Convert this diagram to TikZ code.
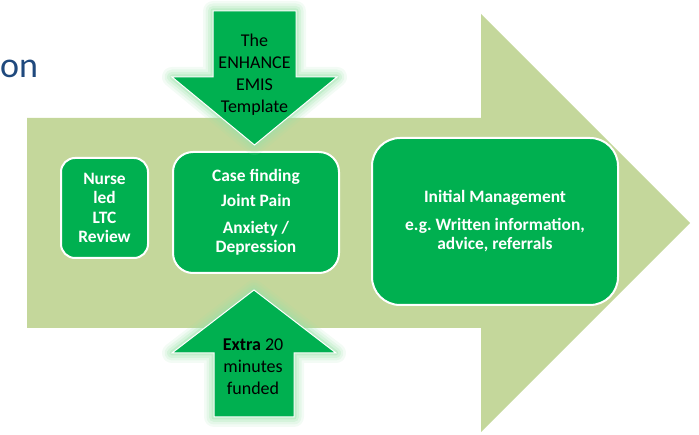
\documentclass[tikz,border=0pt]{standalone}
\usepackage{fontspec}
\setmainfont{Carlito}
\usetikzlibrary{positioning}
\definecolor{leaf}{HTML}{C4D79B}
\definecolor{boxgreen}{HTML}{00B050}
\definecolor{glowgreen}{HTML}{9BE2AA}
\definecolor{titleblue}{HTML}{1F497D}
\tikzset{
	greenbox/.style={draw=white, line width=2pt, fill=boxgreen, text=white, align=center, font=\bfseries\fontsize{17.4}{19.5}\selectfont, inner sep=0pt},
	arrowtext/.style={align=center, text=black, font=\fontsize{18}{22}\selectfont, inner sep=0pt},
	downshape/.style={insert path={(213,11) -- (296,11) -- (296,77) -- (337,77) -- (254.5,145) -- (172,77) -- (213,77) -- cycle}},
	upshape/.style={insert path={(254,290) -- (336,353) -- (294,353) -- (294,417) -- (214,417) -- (214,353) -- (172,353) -- cycle}}
}
\frenchspacing

\begin{document}
\begin{tikzpicture}[x=1pt, y=-1pt]
		\useasboundingbox (0,0) rectangle (699,435);
		% big background arrow
		\fill[leaf] (27,118) -- (481,118) -- (481,14) -- (690,223) -- (481,432) -- (481,328) -- (27,328) -- cycle;
		\node[anchor=base west, inner sep=0pt, text=titleblue, font=\fontsize{36}{40}\selectfont] (title) at (0,78) {on};
		% boxes
		\node[greenbox, minimum width=87pt, minimum height=100pt, rounded corners=14pt] (nurse) at (104.5,208) {Nurse\\led\\LTC\\Review};
		\node[greenbox, minimum width=166pt, minimum height=121pt, rounded corners=20pt] (case) at (256,212.5) {Case finding\\[6pt]Joint Pain\\[7pt]Anxiety /\\Depression};
		\node[greenbox, minimum width=246pt, minimum height=167pt, rounded corners=28pt] (initial) at (495,221.5) {Initial Management\\[8pt]e.g. Written information,\\advice, referrals};
		% glowing arrows
		\foreach \w/\o in {20/0.12, 15/0.16, 10/0.22, 5/0.35}{
			\draw[downshape, glowgreen, line width=\w pt, line join=round, opacity=\o];
			\draw[upshape, glowgreen, line width=\w pt, line join=round, opacity=\o];
		}
		\draw[downshape, fill=boxgreen, draw=white, line width=1pt];
		\draw[upshape, fill=boxgreen, draw=white, line width=1pt];
		\node[arrowtext] (template) at (254.5,75) {The\\ENHANCE\\EMIS\\Template};
		\node[arrowtext] (extra) at (253,367) {\textbf{Extra} 20\\minutes\\funded};
	\end{tikzpicture}
\end{document}
